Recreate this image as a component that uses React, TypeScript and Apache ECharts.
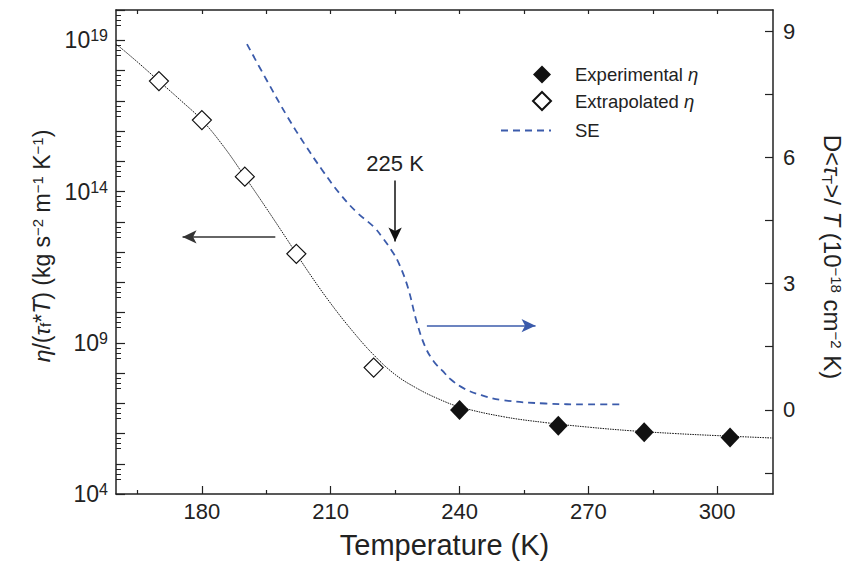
import React, { useEffect, useRef } from 'react';
import * as echarts from 'echarts';

// ---- data (temperature in K, log10 of eta/(tau*T), SE in 1e-18 cm^-2 K) ----
const fitT = [160, 165, 170, 175, 180, 185, 190, 195, 200, 205, 210, 215, 220, 225, 230, 235, 240, 250, 260, 270, 280, 290, 300, 313];
const fitLogEta = [18.88, 18.28, 17.65, 17.02, 16.36, 15.5, 14.49, 13.45, 12.38, 11.3, 10.3, 9.4, 8.6, 7.95, 7.5, 7.15, 6.88, 6.56, 6.36, 6.21, 6.09, 6.0, 5.93, 5.85];

const extrapT = [170, 180, 190, 202, 220];
const extrapLogEta = [17.65, 16.36, 14.49, 11.94, 8.18];

const expT = [240, 263, 283, 303];
const expLogEta = [6.78, 6.26, 6.04, 5.87];

const seT = [190.5, 195, 200, 204, 208, 212, 216, 220, 222, 224.6, 226, 228, 230, 232, 234, 236, 238, 241, 245, 250, 260, 270, 277.5];
const seVal = [8.69, 7.85, 6.95, 6.3, 5.7, 5.15, 4.7, 4.35, 4.1, 3.72, 3.45, 2.9, 2.1, 1.5, 1.15, 0.93, 0.72, 0.51, 0.35, 0.23, 0.15, 0.13, 0.13];

// axis ticks / labels
const xMajorTicks = [180, 210, 240, 270, 300];
const xMinorTicks = [165, 195, 225, 255, 285];
const xTopTicks = [165, 180, 195, 210, 225, 240, 255, 270, 285, 300];
const leftDecades = [4, 5, 6, 7, 8, 9, 10, 11, 12, 13, 14, 15, 16, 17, 18, 19, 20];
const leftLabelDecades = [4, 9, 14, 19];
const rightTicks = [-1.5, 0, 1.5, 3, 4.5, 6, 7.5, 9];
const rightLabels = [0, 3, 6, 9];

// annotations (data coordinates)
const leftArrow = { fromT: 197.1, toT: 175.5, logEta: 12.5 };
const rightArrow = { fromT: 232.4, toT: 257.7, val: 2.0 };
const markArrow = { T: 225, fromVal: 5.45, toVal: 4.0, text: '225 K' };

const FONT = "'Liberation Sans', Arial, sans-serif";
const INK = '#222';
const BLUE = '#3b5bab';

export default function App() {
  const ref = useRef<HTMLDivElement>(null);

  useEffect(() => {
    if (!ref.current) return;
    const chart = echarts.init(ref.current, null, { renderer: 'svg' });

    const leftMinor: number[] = [];
    for (let n = 5; n <= 20; n++) {
      leftMinor.push(n - 1 / 6, n - 2 / 6, n - 3 / 6);
    }

    const fitData = fitT.map((t, i) => [t, Math.pow(10, fitLogEta[i])]);
    const extrapData = extrapT.map((t, i) => [t, Math.pow(10, extrapLogEta[i])]);
    const expData = expT.map((t, i) => [t, Math.pow(10, expLogEta[i])]);
    const seData = seT.map((t, i) => [t, seVal[i]]);

    const mkRich = (size: number, small: number) => ({
      b: { fontSize: size, fontFamily: FONT, color: INK },
      i: { fontStyle: 'italic', fontSize: size, fontFamily: FONT, color: INK },
      sup: { fontSize: small, verticalAlign: 'top', fontFamily: FONT, color: INK, padding: [0, 0, Math.round(size * 0.3), 0] },
      sub: { fontSize: small, verticalAlign: 'bottom', fontFamily: FONT, color: INK, padding: [Math.round(size * 0.3), 0, 0, 0] },
    });

    const option: any = {
      animation: false,
      textStyle: { fontFamily: FONT, color: INK },
      grid: { left: 116, right: 81, top: 10, bottom: 73 },
      legend: [
        {
          data: ['Experimental η', 'Extrapolated η'],
          orient: 'vertical',
          left: 527,
          top: 60,
          itemWidth: 18,
          itemHeight: 18,
          itemGap: 7,
          selectedMode: false,
          formatter: (n: string) => n.replace('Experimental η', '{b|Experimental }{i|η}').replace('Extrapolated η', '{b|Extrapolated }{i|η}'),
          textStyle: {
            fontSize: 18.5,
            color: INK,
            fontFamily: FONT,
            padding: [0, 0, 0, 19],
            rich: {
              b: { fontSize: 18.5, fontFamily: FONT, color: INK },
              i: { fontStyle: 'italic', fontSize: 18.5, fontFamily: FONT, color: INK },
            },
          },
        },
        {
          data: ['SE'],
          left: 495,
          top: 116,
          itemWidth: 50,
          itemHeight: 14,
          selectedMode: false,
          itemStyle: { opacity: 0, color: 'rgba(0,0,0,0)', borderWidth: 0 },
          textStyle: { fontSize: 18.5, color: INK, fontFamily: FONT, padding: [0, 0, 0, 19] },
        },
      ],
      xAxis: [
        {
          type: 'value',
          min: 160,
          max: 313,
          position: 'bottom',
          axisLine: { show: true, onZero: false, lineStyle: { color: INK, width: 1.5 } },
          axisTick: { show: true, inside: true, length: 8, customValues: xMajorTicks, lineStyle: { color: INK, width: 1.2 } },
          axisLabel: { customValues: xMajorTicks, fontSize: 22, color: INK, fontFamily: FONT, margin: 6 },
          splitLine: { show: false },
          name: 'Temperature (K)',
          nameLocation: 'middle',
          nameGap: 36,
          nameTextStyle: { fontSize: 29, color: INK, fontFamily: FONT },
        },
        {
          type: 'value',
          min: 160,
          max: 313,
          position: 'bottom',
          axisLine: { show: false, onZero: false },
          axisTick: { show: true, inside: true, length: 4, customValues: xMinorTicks, lineStyle: { color: INK, width: 1.2 } },
          axisLabel: { show: false },
          splitLine: { show: false },
        },
        {
          type: 'value',
          min: 160,
          max: 313,
          position: 'top',
          axisLine: { show: true, onZero: false, lineStyle: { color: INK, width: 1.5 } },
          axisTick: { show: true, inside: true, length: 4, customValues: xTopTicks, lineStyle: { color: INK, width: 1.2 } },
          axisLabel: { show: false },
          splitLine: { show: false },
        },
      ],
      yAxis: [
        {
          type: 'log',
          logBase: 10,
          min: 1e4,
          max: 1e20,
          position: 'left',
          axisLine: { show: true, onZero: false, lineStyle: { color: INK, width: 1.5 } },
          axisTick: { show: false },
          axisLabel: { show: false },
          splitLine: { show: false },
          name: '{i|η}{b|/(}{i|τ}{sub|f}{b|*}{i|T}{b|) (kg s}{sup|−2}{b| m}{sup|−1}{b| K}{sup|−1}{b|)}',
          nameLocation: 'middle',
          nameRotate: 90,
          nameGap: 63,
          nameTextStyle: { fontSize: 23, color: INK, fontFamily: FONT, padding: [0, 0, 0, 12], rich: mkRich(23, 15) },
        },
        {
          type: 'value',
          min: 4,
          max: 20,
          position: 'left',
          axisLine: { show: false, onZero: false },
          axisTick: { show: true, inside: true, length: 9, customValues: leftDecades, lineStyle: { color: INK, width: 1.2 } },
          axisLabel: {
            customValues: leftLabelDecades,
            formatter: (v: number) => `{b|10}{sup|${Math.round(v)}}`,
            fontSize: 23,
            color: INK,
            fontFamily: FONT,
            margin: 8,
            rich: {
              b: { fontSize: 23, fontFamily: FONT, color: INK },
              sup: { fontSize: 16, verticalAlign: 'top', fontFamily: FONT, color: INK, padding: [0, 0, 9, 0] },
            },
          },
          splitLine: { show: false },
        },
        {
          type: 'value',
          min: 4,
          max: 20,
          position: 'left',
          axisLine: { show: false, onZero: false },
          axisTick: { show: true, inside: true, length: 5, customValues: leftMinor, lineStyle: { color: INK, width: 1 } },
          axisLabel: { show: false },
          splitLine: { show: false },
        },
        {
          type: 'value',
          min: -2,
          max: 9.5,
          position: 'right',
          axisLine: { show: true, onZero: false, lineStyle: { color: INK, width: 1.5 } },
          axisTick: { show: true, inside: true, length: 8, customValues: rightTicks, lineStyle: { color: INK, width: 1.2 } },
          axisLabel: { customValues: rightLabels, fontSize: 22, color: INK, fontFamily: FONT, margin: 10 },
          splitLine: { show: false },
          name: '{b|D<}{i|τ}{sub|T}{b|>/ }{i|T}{b| (10}{sup|−18}{b| cm}{sup|−2}{b| K)}',
          nameLocation: 'middle',
          nameRotate: -90,
          nameGap: 47,
          nameTextStyle: { fontSize: 24, color: INK, fontFamily: FONT, padding: [0, 0, 0, 10], rich: mkRich(24, 15) },
        },
      ],
      series: [
        {
          type: 'line',
          name: 'fit',
          xAxisIndex: 0,
          yAxisIndex: 0,
          data: fitData,
          smooth: 0.4,
          symbol: 'none',
          lineStyle: { color: '#111', width: 1, type: [1.5, 1] },
          z: 2,
          markLine: {
            silent: true,
            symbol: ['none', 'arrow'],
            symbolSize: [10, 14],
            label: { show: false },
            lineStyle: { color: '#333', width: 1.5, type: 'solid' },
            data: [
              [
                { coord: [leftArrow.fromT, Math.pow(10, leftArrow.logEta)] },
                { coord: [leftArrow.toT, Math.pow(10, leftArrow.logEta)] },
              ],
            ],
          },
        },
        {
          type: 'line',
          name: 'SE',
          xAxisIndex: 0,
          yAxisIndex: 3,
          data: seData,
          smooth: 0.4,
          symbol: 'none',
          lineStyle: { color: BLUE, width: 1.8, type: [7, 5] },
          itemStyle: { color: BLUE },
          z: 2,
          markLine: {
            silent: true,
            symbol: ['none', 'arrow'],
            symbolSize: [10, 14],
            data: [
              [
                { coord: [rightArrow.fromT, rightArrow.val], lineStyle: { color: BLUE, width: 1.5, type: 'solid' }, label: { show: false } },
                { coord: [rightArrow.toT, rightArrow.val] },
              ],
              [
                {
                  coord: [markArrow.T, markArrow.fromVal],
                  lineStyle: { color: '#111', width: 1.5, type: 'solid' },
                  label: {
                    show: true,
                    position: 'start',
                    formatter: markArrow.text,
                    fontSize: 22,
                    color: INK,
                    fontFamily: FONT,
                    distance: 6,
                  },
                },
                { coord: [markArrow.T, markArrow.toVal] },
              ],
            ],
          },
        },
        {
          type: 'scatter',
          name: 'Extrapolated η',
          xAxisIndex: 0,
          yAxisIndex: 0,
          data: extrapData,
          symbol: 'diamond',
          symbolSize: 19,
          itemStyle: { color: '#fff', borderColor: '#111', borderWidth: 1.2, opacity: 1 },
          z: 5,
        },
        {
          type: 'scatter',
          name: 'Experimental η',
          xAxisIndex: 0,
          yAxisIndex: 0,
          data: expData,
          symbol: 'diamond',
          symbolSize: [19, 20],
          itemStyle: { color: '#111', opacity: 1 },
          z: 5,
        },
      ],
    };

    chart.setOption(option);
    return () => chart.dispose();
  }, []);

  return (
    <div
      ref={ref}
      style={{ position: 'fixed', left: 0, top: 0, width: 854, height: 567, background: '#fff' }}
    />
  );
}
